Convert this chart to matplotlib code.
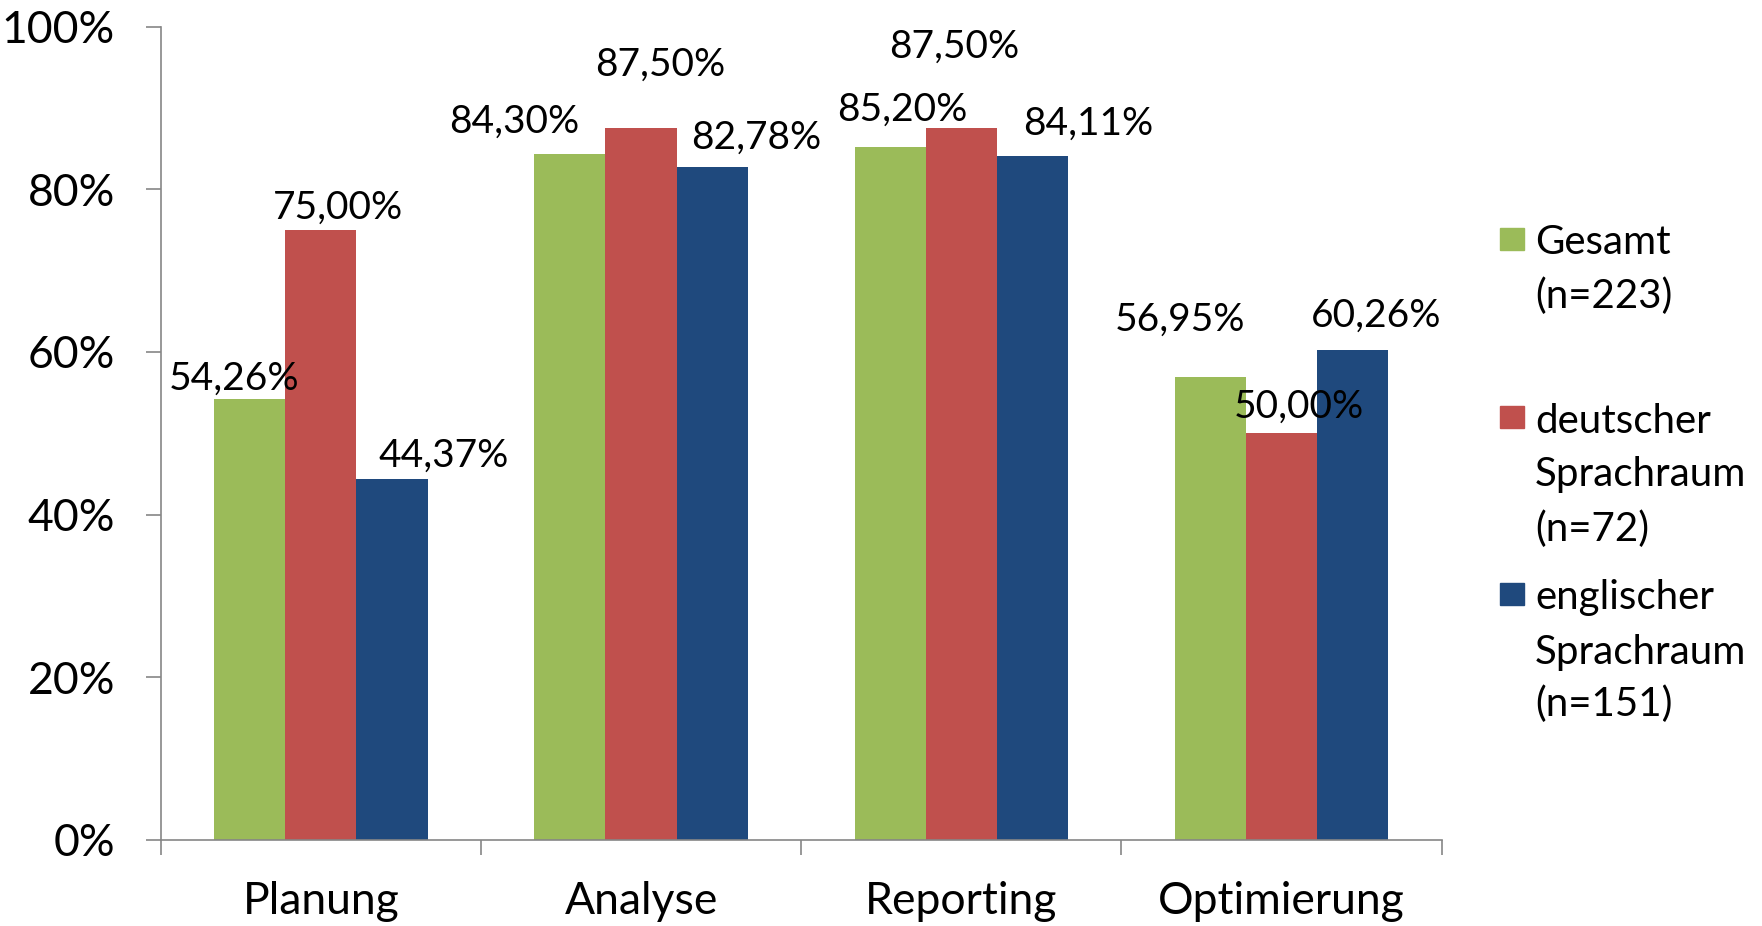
import matplotlib.pyplot as plt
from matplotlib.patches import Rectangle
import numpy as np

plt.rcParams['font.family'] = ['Lato', 'DejaVu Sans']

categories = ["Planung", "Analyse", "Reporting", "Optimierung"]
series_names = ["Gesamt\n(n=223)", "deutscher\nSprachraum\n(n=72)", "englischer\nSprachraum\n(n=151)"]
gesamt = [54.26, 84.30, 85.20, 56.95]
deutsch = [75.00, 87.50, 87.50, 50.00]
englisch = [44.37, 82.78, 84.11, 60.26]
y_ticks = [0, 20, 40, 60, 80, 100]

colors = ['#9BBB59', '#C0504D', '#1F497D']
# label offsets in pixels, relative to the top centre of each bar
label_offsets = [
    [(-16, 20), (-56, 33), (12, 37), (-30, 57)],
    [(17, 22), (19, 64), (-7, 82), (17, 26)],
    [(52, 23), (44, 29), (56, 32), (23, 34)],
]

W, H = 1762, 926
fig = plt.figure(figsize=(W / 100, H / 100), dpi=100)
ax = fig.add_axes([160.7 / W, 1 - 839.7 / H, (1441.7 - 160.7) / W, (839.7 - 26.7) / H])

x = np.arange(len(categories))
bw = 1 / 4.5
fs_lab = 28     # data labels
fs_tick = 32    # axis tick labels
fs_leg = 29     # legend
grey = '#868686'

for i, vals in enumerate([gesamt, deutsch, englisch]):
    pos = x + (i - 1) * bw
    ax.bar(pos, vals, width=bw, color=colors[i], edgecolor='none')
    for j, v in enumerate(vals):
        dx, dy = label_offsets[i][j]
        ax.annotate(f"{v:.2f}%".replace('.', ','), xy=(pos[j], v), xytext=(dx, dy),
                    textcoords='offset pixels', ha='center', va='center', fontsize=fs_lab)

ax.set_xlim(-0.5, 3.5)
ax.set_ylim(0, 100)
ax.set_yticks(y_ticks)
ax.set_yticklabels([f"{t}%" for t in y_ticks])
ax.set_xticks(x)
ax.set_xticklabels(categories)
ax.set_xticks(np.arange(-0.5, 4.0, 1.0), minor=True)

ax.tick_params(axis='y', length=10.8, width=1.2, color=grey, labelsize=fs_tick, pad=22)
ax.tick_params(axis='x', which='major', length=0, labelsize=fs_tick, pad=30)
ax.tick_params(axis='x', which='minor', length=10.8, width=1.2, color=grey)

for s in ['top', 'right']:
    ax.spines[s].set_visible(False)
for s in ['left', 'bottom']:
    ax.spines[s].set_color(grey)
    ax.spines[s].set_linewidth(1.2)

# legend drawn by hand to match the spacing of the original
square_tops = [228, 406, 583]
line_baselines = [[254, 308], [433, 486, 541], [609, 664, 716]]
for i, name in enumerate(series_names):
    fig.patches.append(Rectangle((1500 / W, 1 - (square_tops[i] + 22) / H), 24 / W, 22 / H,
                                 transform=fig.transFigure, color=colors[i]))
    for line, base in zip(name.split('\n'), line_baselines[i]):
        fig.text(1535 / W, 1 - base / H, line, fontsize=fs_leg, va='baseline', ha='left')

fig.savefig('out.png', dpi=100)
